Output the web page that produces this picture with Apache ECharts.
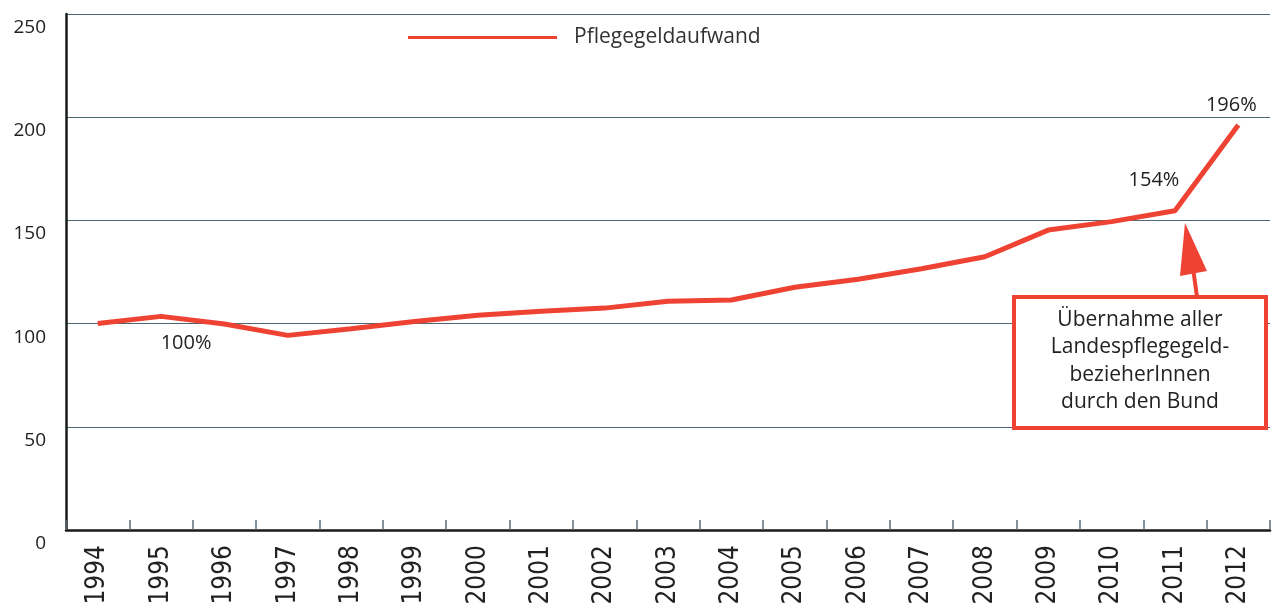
<!DOCTYPE html>
<html>
<head>
<meta charset="utf-8">
<script src="https://cdn.jsdelivr.net/npm/echarts@6/dist/echarts.min.js"></script>
<style>
  html, body { margin: 0; padding: 0; background: #fff; }
  #main { width: 1276px; height: 608px; }
</style>
</head>
<body>
<div id="main"></div>
<script>
// Daten (Index, 1994 = 100)
var years = ['1994','1995','1996','1997','1998','1999','2000','2001','2002','2003',
             '2004','2005','2006','2007','2008','2009','2010','2011','2012'];
var pflegegeld = [100, 103.5, 99.8, 94.3, 97.5, 101, 104, 106, 107.5, 110.8,
                  111.4, 117.6, 121.5, 126.6, 132.4, 145.3, 149.4, 154.7, 196.2];
var yTicks = [0, 50, 100, 150, 200, 250];
// Beschriftungen an einzelnen Punkten
var pctLabels = { '1995': '100%', '2011': '154%', '2012': '196%' };
var noteLines = ['Übernahme aller', 'Landespflegegeld-', 'bezieherInnen', 'durch den Bund'];

var red = '#ee4233';
var txtFont = '"Open Sans", sans-serif';

var labelPos = {
    '1995': { position: 'bottom', offset: [25, 12] },
    '2011': { position: 'top', offset: [-21, -15] },
    '2012': { position: 'top', offset: [-7, -5] }
};

var seriesData = pflegegeld.map(function (v, i) {
    var y = years[i];
    if (!pctLabels[y]) return v;
    return {
        value: v,
        label: {
            show: true,
            formatter: pctLabels[y],
            position: labelPos[y].position,
            offset: labelPos[y].offset,
            fontFamily: txtFont,
            fontSize: 20,
            color: '#222'
        }
    };
});

var myChart = echarts.init(document.getElementById('main'));

var option = {
    backgroundColor: '#fff',
    animation: false,
    grid: { left: 66, right: 6, top: 14, bottom: 78, outerBoundsMode: 'none', containLabel: false },
    legend: {
        left: 408,
        top: 27,
        padding: 0,
        icon: 'rect',
        itemWidth: 149,
        itemHeight: 3,
        textStyle: { fontFamily: txtFont, fontSize: 21, color: '#333', padding: [0, 0, 0, 12] },
        data: ['Pflegegeldaufwand']
    },
    xAxis: {
        type: 'category',
        data: years,
        boundaryGap: true,
        axisLine: { lineStyle: { color: '#1a1a1a', width: 2.5 } },
        axisTick: { show: true, inside: true, length: 10, interval: 0, lineStyle: { color: '#5a6e7c', width: 1.5 } },
        axisLabel: {
            interval: 0,
            rotate: 90,
            margin: 15,
            padding: [12, 0, 0, 0],
            fontFamily: '"Liberation Sans Narrow", "DejaVu Sans Condensed", sans-serif',
            fontSize: 26,
            color: '#222'
        }
    },
    yAxis: {
        type: 'value',
        min: 0,
        max: 250,
        interval: 50,
        axisLine: { show: true, lineStyle: { color: '#1a1a1a', width: 2.5 } },
        axisTick: { show: false },
        splitLine: { lineStyle: { color: '#4d6575', width: 1.2 } },
        axisLabel: {
            margin: 20,
            verticalAlign: 'top',
            lineHeight: 27,
            fontFamily: txtFont,
            fontSize: 19,
            color: '#222',
            formatter: function (v) { return yTicks.indexOf(v) >= 0 ? String(v) : ''; }
        }
    },
    series: [{
        name: 'Pflegegeldaufwand',
        type: 'line',
        data: seriesData,
        showSymbol: true,
        symbol: 'circle',
        symbolSize: 0.1,
        itemStyle: { color: red },
        lineStyle: { color: red, width: 5 },
        z: 5
    }],
    graphic: [
        // Pfeil
        {
            type: 'line',
            shape: { x1: 1193, y1: 268, x2: 1197, y2: 297 },
            style: { stroke: red, lineWidth: 4 },
            z: 10
        },
        {
            type: 'polygon',
            shape: { points: [[1185, 223], [1180, 276], [1207, 271]] },
            style: { fill: red },
            z: 10
        },
        // Kasten
        {
            type: 'rect',
            shape: { x: 1014, y: 297, width: 252, height: 131 },
            style: { fill: '#fff', stroke: red, lineWidth: 4 },
            z: 10
        },
        {
            type: 'text',
            x: 1140,
            y: 306,
            style: {
                text: noteLines.join('\n'),
                align: 'center',
                verticalAlign: 'top',
                font: '21px "Open Sans", sans-serif',
                lineHeight: 27.5,
                fill: '#222'
            },
            z: 11
        }
    ]
};

myChart.setOption(option);
</script>
</body>
</html>
